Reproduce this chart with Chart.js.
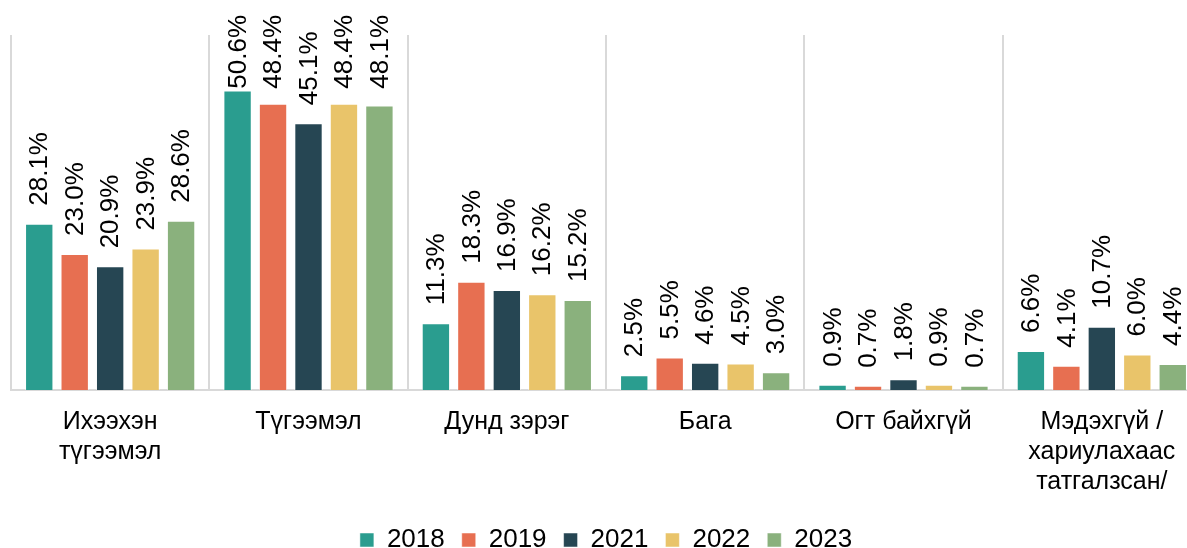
<!DOCTYPE html>
<html>
<head>
<meta charset="utf-8">
<script src="https://cdn.jsdelivr.net/npm/chart.js@4/dist/chart.umd.min.js"></script>
<style>
	html, body { margin: 0; padding: 0; background: #fff; overflow: hidden; }
	#wrap { width: 1220px; height: 548px; }
</style>
</head>
<body>
<div id="wrap"><canvas id="chart-survey" width="1220" height="548"></canvas></div>
<script>
const CATEGORIES = [
	["Ихээхэн", "түгээмэл"],
	"Түгээмэл",
	"Дунд зэрэг",
	"Бага",
	"Огт байхгүй",
	["Мэдэхгүй /", "хариулахаас", "татгалзсан/"],
];
const YEARS = ["2018", "2019", "2021", "2022", "2023"];
const V_2018 = [28.1, 50.6, 11.3, 2.5, 0.9, 6.6];
const V_2019 = [23.0, 48.4, 18.3, 5.5, 0.7, 4.1];
const V_2021 = [20.9, 45.1, 16.9, 4.6, 1.8, 10.7];
const V_2022 = [23.9, 48.4, 16.2, 4.5, 0.9, 6.0];
const V_2023 = [28.6, 48.1, 15.2, 3.0, 0.7, 4.4];
const COLORS = ["#2a9d8f", "#e76f51", "#264653", "#e9c46a", "#8ab17d"];

const FONT = "'Liberation Sans', Arial, sans-serif";
const SERIES = [V_2018, V_2019, V_2021, V_2022, V_2023];

//--------------------------------------------
// Value labels, rotated, above each bar
//--------------------------------------------
const barLabels = {
	id: "barLabels",
	afterDatasetsDraw(chart) {
		const ctx = chart.ctx;
		ctx.save();
		ctx.font = `26px ${FONT}`;
		ctx.fillStyle = "#000";
		ctx.textAlign = "left";
		ctx.textBaseline = "middle";
		chart.data.datasets.forEach((ds, i) => {
			chart.getDatasetMeta(i).data.forEach((bar, j) => {
				const text = ds.data[j].toFixed(1) + "%";
				const w = ctx.measureText(text).width;
				const y = Math.max(bar.y - 18, 15 + w);
				ctx.save();
				ctx.translate(bar.x, y);
				ctx.rotate(-Math.PI / 2);
				ctx.fillText(text, 0, 1);
				ctx.restore();
			});
		});
		ctx.restore();
	},
};

const CHART_DATA = {
	labels: CATEGORIES,
	datasets: YEARS.map((year, i) => ({
		label: year,
		data: SERIES[i],
		backgroundColor: COLORS[i],
		borderColor: "rgba(255,255,255,0.5)",
		borderWidth: 1,
		categoryPercentage: 0.894,
		barPercentage: 0.8,
	})),
};

const CHART_CONFIG = {
	type: "bar",
	data: CHART_DATA,
	options: {
		responsive: false,
		animation: false,
		layout: {
			padding: { top: 35, left: 11, right: 19, bottom: -15 },
		},
		scales: {
			x: {
				// labels hang a bit lower than the fitted axis box
				afterFit: (scale) => {
					scale.height -= 4;
				},
				grid: {
					color: "#d9d9d9",
					lineWidth: 2,
					drawTicks: false,
					offset: true,
				},
				border: { color: "#d9d9d9", width: 2 },
				ticks: {
					color: "#000",
					padding: 17,
					maxRotation: 0,
					autoSkip: false,
					font: { family: FONT, size: 25, lineHeight: 1.2 },
				},
			},
			y: {
				display: false,
				min: 0,
				max: 60,
			},
		},
		plugins: {
			legend: {
				position: "bottom",
				labels: {
					color: "#000",
					boxWidth: 14,
					boxHeight: 14,
					padding: 17,
					font: { family: FONT, size: 26 },
				},
			},
			tooltip: { enabled: false },
		},
	},
	plugins: [barLabels],
};

new Chart(document.getElementById("chart-survey"), CHART_CONFIG);
</script>
</body>
</html>
